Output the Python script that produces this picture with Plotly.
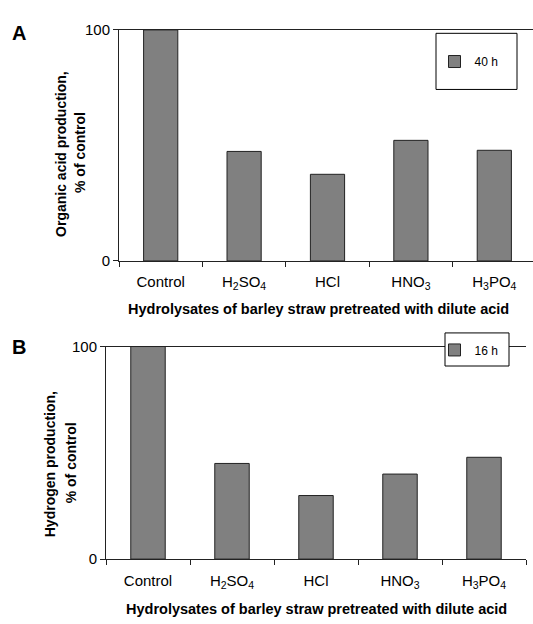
import plotly.graph_objects as go

categories = ["Control", "H<sub>2</sub>SO<sub>4</sub>", "HCl", "HNO<sub>3</sub>", "H<sub>3</sub>PO<sub>4</sub>"]
organic_acid_40h = [100, 47.4, 37.5, 52.2, 47.9]
hydrogen_16h = [100, 45.0, 29.9, 40.0, 47.9]
y_ticks = [0, 100]
x_title = "Hydrolysates of barley straw pretreated with dilute acid"

W, H = 533, 624
FONT = "Liberation Sans, Arial, sans-serif"


def px(x):
    return x / W


def py(y):
    return 1 - y / H


fig = go.Figure()
bar_style = dict(marker=dict(color="#808080", line=dict(color="#222222", width=1)), width=0.41)
fig.add_trace(go.Bar(x=categories, y=organic_acid_40h, name="40 h", xaxis="x", yaxis="y",
                     legend="legend", **bar_style))
fig.add_trace(go.Bar(x=categories, y=hydrogen_16h, name="16 h", xaxis="x2", yaxis="y2",
                     legend="legend2", **bar_style))

axis_common = dict(showline=True, linecolor="#222222", linewidth=1, showgrid=False, zeroline=False,
                   tickfont=dict(family=FONT, size=15, color="black"), ticks="outside",
                   tickcolor="#222222", ticklen=5, fixedrange=True)

fig.update_layout(
    width=W, height=H, margin=dict(l=0, r=0, t=0, b=0),
    paper_bgcolor="white", plot_bgcolor="white", showlegend=True,
    font=dict(family=FONT, color="black"),
    xaxis=dict(domain=[px(119), 1], anchor="y", type="category", range=[-0.5, 4.464],
               tickson="boundaries", mirror=True, ticklabelstandoff=7, **axis_common),
    yaxis=dict(domain=[py(259), py(21.5)], anchor="x", range=[0, 100], tickvals=y_ticks, **axis_common),
    xaxis2=dict(domain=[px(106), px(526)], anchor="y2", type="category", range=[-0.5, 4.5],
                tickson="boundaries", mirror=True, ticklabelstandoff=8, **axis_common),
    yaxis2=dict(domain=[py(565.5), py(347)], anchor="x2", range=[0, 100], tickvals=y_ticks, **axis_common),
    legend=dict(x=px(469), y=py(54), xanchor="center", yanchor="middle", bgcolor="rgba(0,0,0,0)",
                borderwidth=0, font=dict(family=FONT, size=12, color="black")),
    legend2=dict(x=px(469), y=py(350.5), xanchor="center", yanchor="middle", bgcolor="rgba(0,0,0,0)",
                 borderwidth=0, font=dict(family=FONT, size=12, color="black")),
    bargap=0.59,
)

# legend frames
fig.add_shape(type="rect", xref="paper", yref="paper", x0=px(436), x1=px(517), y0=py(82.7), y1=py(25),
              line=dict(color="black", width=1), fillcolor="white", layer="below")
fig.add_shape(type="rect", xref="paper", yref="paper", x0=px(445), x1=px(509), y0=py(367), y1=py(333),
              line=dict(color="black", width=1), fillcolor="white", layer="above")

ann = []
bold = dict(family=FONT, size=14, color="black")
title_font = dict(family=FONT, size=14.5, color="black")
ann.append(dict(text="<b>A</b>", x=px(18.5), y=py(25), font=dict(family=FONT, size=20, color="black")))
ann.append(dict(text="<b>B</b>", x=px(18.5), y=py(347), font=dict(family=FONT, size=20, color="black")))
ann.append(dict(text="<b>" + x_title + "</b>", x=px(318), y=py(308), font=title_font))
ann.append(dict(text="<b>" + x_title + "</b>", x=px(316), y=py(617), font=title_font))
ann.append(dict(text="<b>Organic acid production,</b>", x=px(61), y=py(149), textangle=-90, font=bold))
ann.append(dict(text="<b>% of control</b>", x=px(80), y=py(148), textangle=-90, font=bold))
ann.append(dict(text="<b>Hydrogen production,</b>", x=px(50), y=py(468), textangle=-90, font=bold))
ann.append(dict(text="<b>% of control</b>", x=px(71), y=py(467), textangle=-90, font=bold))
for a in ann:
    a.update(xref="paper", yref="paper", showarrow=False, xanchor="center", yanchor="middle")
fig.update_layout(annotations=ann)

fig.write_html(
    "out.html",
    config={"displayModeBar": False},
    post_script=(
        "document.documentElement.style.margin='0';document.documentElement.style.overflow='hidden';"
        "document.body.style.margin='0';document.body.style.overflow='hidden';"
        "var d=document.getElementById('{plot_id}');d.style.position='fixed';"
        "d.style.left='0px';d.style.top='0px';"
    ),
)
